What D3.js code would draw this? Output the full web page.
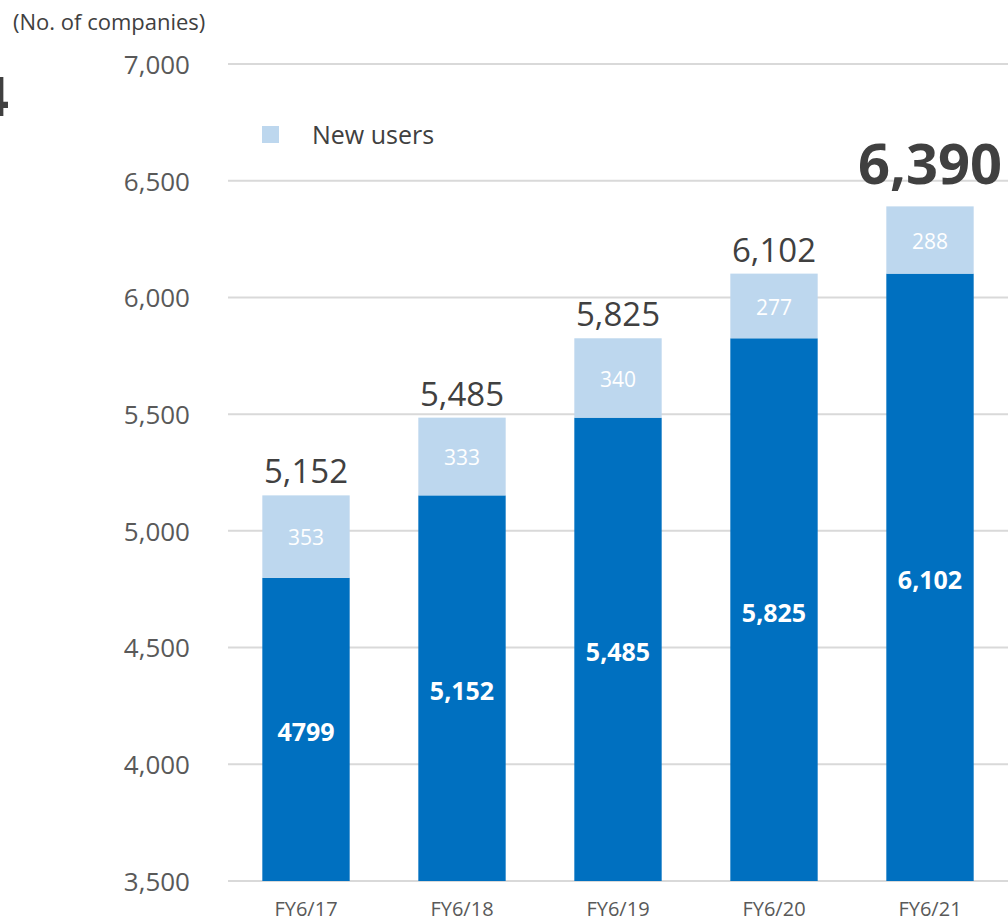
<!DOCTYPE html>
<html>
<head>
<meta charset="utf-8">
<script src="https://cdn.jsdelivr.net/npm/d3@7"></script>
<style>
  html, body { margin: 0; padding: 0; background: #ffffff; }
  svg { display: block; }
  text { font-family: "Open Sans", "Liberation Sans", sans-serif; }
</style>
</head>
<body>
<svg id="chart" width="1008" height="923"></svg>
<script>
// Number of user companies by fiscal year
const categories = ["FY6/17", "FY6/18", "FY6/19", "FY6/20", "FY6/21"];
const existingUsers = [4799, 5152, 5485, 5825, 6102];
const newUsers = [353, 333, 340, 277, 288];
const yTicks = [3500, 4000, 4500, 5000, 5500, 6000, 6500, 7000];
const baseLabels = ["4799", "5,152", "5,485", "5,825", "6,102"];

const totals = existingUsers.map((v, i) => v + newUsers[i]);
const rows = categories.map((c, i) => ({
  cat: c, base: existingUsers[i], add: newUsers[i], total: totals[i], baseLabel: baseLabels[i]
}));

const svg = d3.select("#chart");
const fmt = d3.format(",");

const x = d3.scaleBand()
  .domain(categories)
  .range([228, 1008])
  .paddingInner(0.44)
  .paddingOuter(0.22);

const y = d3.scaleLinear()
  .domain([3500, 7000])
  .range([881, 64]);

// Horizontal gridlines
svg.append("g")
  .selectAll("line")
  .data(yTicks)
  .join("line")
  .attr("x1", 228)
  .attr("x2", 1008)
  .attr("y1", d => y(d))
  .attr("y2", d => y(d))
  .attr("stroke", "#d9d9d9")
  .attr("stroke-width", 2);

// Y axis labels
const yAxis = d3.axisLeft(y).tickValues(yTicks).tickFormat(fmt).tickSize(0).tickPadding(0);
const yg = svg.append("g").attr("transform", "translate(190,0)").call(yAxis);
yg.select(".domain").remove();
yg.selectAll("text")
  .attr("fill", "#595959")
  .style("font-size", "26px")
  .attr("dy", "0.36em");

// Unit caption
svg.append("text")
  .attr("x", 13)
  .attr("y", 30)
  .attr("fill", "#404040")
  .style("font-size", "22px")
  .text("(No. of companies)");

// Large heading digit at the left edge
svg.append("text")
  .attr("x", 9)
  .attr("y", 116)
  .attr("text-anchor", "end")
  .attr("fill", "#404040")
  .style("font-size", "54px")
  .style("font-weight", "bold")
  .text("4");

// Existing users (dark segment)
svg.append("g")
  .selectAll("rect")
  .data(rows)
  .join("rect")
  .attr("x", d => x(d.cat))
  .attr("width", x.bandwidth())
  .attr("y", d => y(d.base))
  .attr("height", d => y(3500) - y(d.base))
  .attr("fill", "#0070c0");

// New users (light segment)
svg.append("g")
  .selectAll("rect")
  .data(rows)
  .join("rect")
  .attr("x", d => x(d.cat))
  .attr("width", x.bandwidth())
  .attr("y", d => y(d.total))
  .attr("height", d => y(d.base) - y(d.total))
  .attr("fill", "#bdd7ee");

// Labels inside the dark segments
svg.append("g")
  .selectAll("text")
  .data(rows)
  .join("text")
  .attr("x", d => x(d.cat) + x.bandwidth() / 2)
  .attr("y", d => (y(d.base) + y(3500)) / 2 + 3)
  .attr("dy", "0.36em")
  .attr("text-anchor", "middle")
  .attr("fill", "#ffffff")
  .style("font-size", "25px")
  .style("font-weight", "bold")
  .text(d => d.baseLabel);

// Labels inside the light segments
svg.append("g")
  .selectAll("text")
  .data(rows)
  .join("text")
  .attr("x", d => x(d.cat) + x.bandwidth() / 2)
  .attr("y", d => (y(d.base) + y(d.total)) / 2 + 1)
  .attr("dy", "0.36em")
  .attr("text-anchor", "middle")
  .attr("fill", "#ffffff")
  .style("font-size", "21px")
  .text(d => fmt(d.add));

// Totals above the bars
svg.append("g")
  .selectAll("text")
  .data(rows)
  .join("text")
  .attr("x", d => x(d.cat) + x.bandwidth() / 2)
  .attr("y", (d, i) => y(d.total) - (i === rows.length - 1 ? 22 : 12))
  .attr("text-anchor", "middle")
  .attr("fill", "#404040")
  .style("font-size", (d, i) => i === rows.length - 1 ? "56px" : "33px")
  .style("font-weight", (d, i) => i === rows.length - 1 ? "bold" : "normal")
  .text(d => fmt(d.total));

// Category labels
const xAxis = d3.axisBottom(x).tickSize(0).tickPadding(0);
const xg = svg.append("g").attr("transform", "translate(0,881)").call(xAxis);
xg.select(".domain").remove();
xg.selectAll("text")
  .attr("y", 35)
  .attr("dy", "0")
  .attr("fill", "#595959")
  .style("font-size", "20px");

// Legend
const legend = svg.append("g");
legend.append("rect")
  .attr("x", 262).attr("y", 126).attr("width", 17).attr("height", 17)
  .attr("fill", "#bdd7ee");
legend.append("text")
  .attr("x", 312).attr("y", 135).attr("dy", "0.36em")
  .attr("fill", "#404040")
  .style("font-size", "25px")
  .text("New users");
</script>
</body>
</html>
